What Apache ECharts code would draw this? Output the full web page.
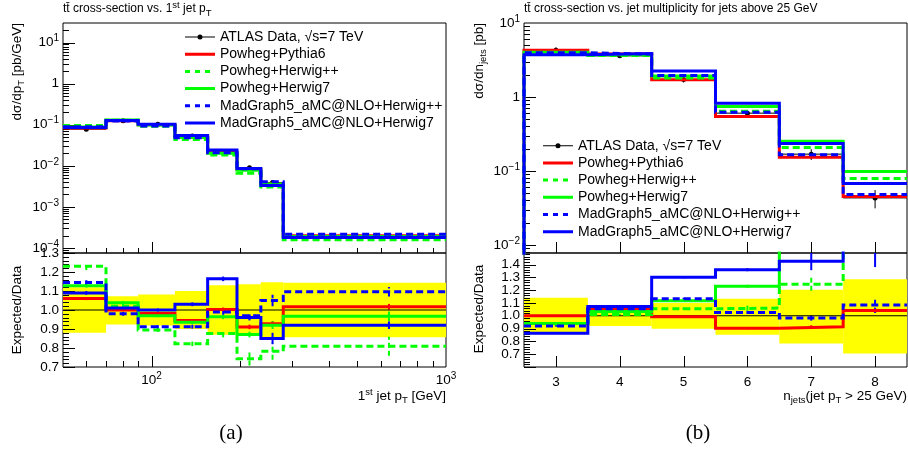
<!DOCTYPE html>
<html><head><meta charset="utf-8">
<script src="https://cdn.jsdelivr.net/npm/echarts@6/dist/echarts.min.js"></script>
<style>html,body{margin:0;padding:0;background:#fff}#c{width:908px;height:453px}</style>
</head><body><div id="c"></div>
<script>
const FONT = '"Liberation Sans", Arial, Helvetica, sans-serif';

// ---------- Panel (a): 1st jet pT ----------
const ptEdges = [50, 70, 90, 120, 155, 195, 235, 280, 1000];
const ptData = [0.078, 0.125, 0.102, 0.053, 0.0209, 0.0089, 0.0039, 0.000195];
const ptDataErr = [0.006, 0.008, 0.006, 0.004, 0.0015, 0.0007, 0.0004, 0.00002];
const ptPythia6 = [0.0827, 0.125, 0.1002, 0.0501, 0.02096, 0.00811, 0.00362, 0.000198];
const ptHerwigpp = [0.0959, 0.1275, 0.0913, 0.0436, 0.0183, 0.00661, 0.00305, 0.000158];
const ptHerwig7 = [0.088, 0.1298, 0.0989, 0.0496, 0.02015, 0.00775, 0.00359, 0.000189];
const ptMGHerwigpp = [0.0893, 0.1225, 0.093, 0.0483, 0.02069, 0.0085, 0.0041, 0.000214];
const ptMGHerwig7 = [0.085, 0.1264, 0.102, 0.0546, 0.02433, 0.00861, 0.00332, 0.000179];
const ptBandLo = [0.88, 0.924, 0.918, 0.9, 0.87, 0.865, 0.848, 0.857];
const ptBandHi = [1.12, 1.073, 1.082, 1.1, 1.13, 1.135, 1.146, 1.143];
const ptRatioPythia6 = [1.06, 1.0, 0.982, 0.945, 1.003, 0.911, 0.927, 1.017];
const ptRatioHerwigpp = [1.23, 1.02, 0.895, 0.822, 0.876, 0.743, 0.783, 0.809];
const ptRatioHerwig7 = [1.128, 1.038, 0.97, 0.935, 0.964, 0.871, 0.92, 0.967];
const ptRatioMGHerwigpp = [1.145, 0.98, 0.912, 0.912, 0.99, 0.97, 1.05, 1.096];
const ptRatioMGHerwig7 = [1.09, 1.011, 1.0, 1.03, 1.164, 0.96, 0.85, 0.92];
const ptErrPythia6 = [0.008, 0.006, 0.006, 0.007, 0.01, 0.012, 0.015, 0.015];
const ptErrHerwigpp = [0.02, 0.012, 0.01, 0.012, 0.02, 0.035, 0.045, 0.05];
const ptErrHerwig7 = [0.01, 0.01, 0.008, 0.01, 0.012, 0.015, 0.02, 0.025];
const ptErrMGHerwigpp = [0.012, 0.01, 0.008, 0.01, 0.015, 0.02, 0.03, 0.025];
const ptErrMGHerwig7 = [0.01, 0.008, 0.008, 0.01, 0.012, 0.015, 0.03, 0.02];

// ---------- Panel (b): jet multiplicity ----------
const njEdges = [2.5, 3.5, 4.5, 5.5, 6.5, 7.5, 8.5];
const njData = [4.3, 3.6, 1.72, 0.605, 0.169, 0.0433];
const njDataErr = [0.4, 0.2, 0.15, 0.06, 0.028, 0.012];
const njPythia6 = [4.3, 3.8, 1.71, 0.546, 0.154, 0.0451];
const njHerwigpp = [3.98, 3.64, 1.81, 0.641, 0.208, 0.079];
const njHerwig7 = [4.04, 3.72, 1.92, 0.744, 0.252, 0.0984];
const njMGHerwigpp = [3.96, 3.80, 1.95, 0.621, 0.166, 0.0483];
const njMGHerwig7 = [3.72, 3.86, 2.24, 0.823, 0.235, 0.0677];
const njBandLo = [0.856, 0.92, 0.898, 0.851, 0.784, 0.705];
const njBandHi = [1.14, 1.081, 1.1, 1.133, 1.204, 1.285];
const njRatioPythia6 = [1.0, 1.055, 0.992, 0.903, 0.914, 1.042];
const njRatioHerwigpp = [0.925, 1.01, 1.055, 1.06, 1.246, 1.85];
const njRatioHerwig7 = [0.94, 1.034, 1.118, 1.23, 1.52, 2.27];
const njRatioMGHerwigpp = [0.92, 1.055, 1.133, 1.026, 0.982, 1.084];
const njRatioMGHerwig7 = [0.864, 1.073, 1.30, 1.36, 1.426, 1.58];
const njErrPythia6 = [0.005, 0.005, 0.006, 0.008, 0.012, 0.02];
const njErrHerwigpp = [0.006, 0.006, 0.01, 0.02, 0.05, 0.08];
const njErrHerwig7 = [0.005, 0.005, 0.008, 0.012, 0.03, 0.06];
const njErrMGHerwigpp = [0.005, 0.005, 0.008, 0.012, 0.02, 0.06];
const njErrMGHerwig7 = [0.005, 0.005, 0.008, 0.012, 0.07, 0.2];

const NAMES = ['ATLAS Data, \u221As=7 TeV', 'Powheg+Pythia6', 'Powheg+Herwig++', 'Powheg+Herwig7',
  'MadGraph5_aMC@NLO+Herwig++', 'MadGraph5_aMC@NLO+Herwig7'];
const COLORS = ['#000000', '#ff0000', '#00ff00', '#00ff00', '#0000ff', '#0000ff'];
const DASHED = [false, false, true, false, true, false];

// axis ranges
const PT_X = [50, 1000], PT_Y = [7.5e-5, 30], PT_R = [0.7, 1.3];
const NJ_X = [2.5, 8.5], NJ_Y = [0.0078, 10], NJ_R = [0.6, 1.49];

function steps(edges, vals, floor) {
  const d = [];
  if (floor !== undefined) d.push([edges[0], floor]);
  for (let i = 0; i < vals.length; i++) d.push([edges[i], vals[i]]);
  d.push([edges[edges.length - 1], vals[vals.length - 1]]);
  return d;
}
function centers(edges) {
  const c = [];
  for (let i = 0; i < edges.length - 1; i++) c.push((edges[i] + edges[i + 1]) / 2);
  return c;
}
function mcLine(idx, grid, edges, vals, floor) {
  return {
    name: NAMES[idx], type: 'line', xAxisIndex: grid, yAxisIndex: grid, step: 'end',
    symbol: 'none', showSymbol: false, data: steps(edges, vals, floor), clip: true, silent: true,
    lineStyle: { color: COLORS[idx], width: 3, type: DASHED[idx] ? [7, 4] : 'solid', cap: 'butt', join: 'miter' },
    itemStyle: { color: COLORS[idx] }, animation: false
  };
}
function mcErr(idx, grid, edges, vals, errs) {
  const c = centers(edges);
  return {
    name: NAMES[idx], type: 'custom', xAxisIndex: grid, yAxisIndex: grid, clip: true, silent: true,
    encode: { x: 0, y: 1 }, itemStyle: { color: COLORS[idx] },
    data: vals.map((v, i) => [c[i], v, errs[i]]),
    renderItem: function (params, api) {
      const x = api.value(0), y = api.value(1), e = api.value(2);
      const a = api.coord([x, y - e]), b = api.coord([x, y + e]);
      return { type: 'line', shape: { x1: a[0], y1: a[1], x2: b[0], y2: b[1] },
        style: { stroke: COLORS[idx], lineWidth: 2, lineDash: DASHED[idx] ? [5, 3] : null } };
    }
  };
}
function band(grid, edges, lo, hi) {
  return {
    type: 'custom', xAxisIndex: grid, yAxisIndex: grid, clip: true, silent: true, encode: { x: 0, y: 2 },
    data: lo.map((l, i) => [edges[i], edges[i + 1], l, hi[i]]),
    renderItem: function (params, api) {
      const p0 = api.coord([api.value(0), api.value(3)]), p1 = api.coord([api.value(1), api.value(2)]);
      return { type: 'rect', shape: { x: p0[0], y: p0[1], width: p1[0] - p0[0], height: p1[1] - p0[1] },
        style: { fill: '#ffff00' } };
    }
  };
}
function dataPts(grid, edges, vals, errs) {
  const c = centers(edges);
  return {
    name: NAMES[0], type: 'custom', xAxisIndex: grid, yAxisIndex: grid, clip: true, silent: true,
    encode: { x: 0, y: 1 }, itemStyle: { color: '#000' },
    data: vals.map((v, i) => [c[i], v, errs[i], edges[i], edges[i + 1]]),
    renderItem: function (params, api) {
      const x = api.value(0), y = api.value(1), e = api.value(2);
      const cc = api.coord([x, y]), a = api.coord([x, y - e]), b = api.coord([x, y + e]);
      const l = api.coord([api.value(3), y]), r = api.coord([api.value(4), y]);
      return { type: 'group', children: [
        { type: 'line', shape: { x1: l[0], y1: cc[1], x2: r[0], y2: cc[1] }, style: { stroke: '#000', lineWidth: 1 } },
        { type: 'line', shape: { x1: cc[0], y1: a[1], x2: cc[0], y2: b[1] }, style: { stroke: '#000', lineWidth: 1 } },
        { type: 'circle', shape: { cx: cc[0], cy: cc[1], r: 2.5 }, style: { fill: '#000' } }
      ] };
    }
  };
}
function unity(grid, xr) {
  return { type: 'line', xAxisIndex: grid, yAxisIndex: grid, symbol: 'none', silent: true,
    data: [[xr[0], 1], [xr[1], 1]], lineStyle: { color: '#000', width: 1 }, animation: false };
}
// tick marks (inward, ROOT style)
function logTicks(r, majorLen, minorLen) {
  const out = [];
  for (let e = Math.floor(Math.log10(r[0])); e <= Math.ceil(Math.log10(r[1])); e++) {
    for (let k = 1; k <= 9; k++) {
      const v = k * Math.pow(10, e);
      if (v > r[0] * 1.0001 && v < r[1] * 0.9999) out.push([v, k === 1 ? majorLen : minorLen]);
    }
  }
  return out;
}
function linTicks(r, minorStep, perMajor, majorLen, minorLen) {
  const out = [];
  for (let n = Math.ceil(r[0] / minorStep - 1e-6); n <= Math.floor(r[1] / minorStep + 1e-6); n++) {
    out.push([n * minorStep, n % perMajor === 0 ? majorLen : minorLen]);
  }
  return out;
}
function tickSeries(grid, orient, ref, ticks) {
  return {
    type: 'custom', xAxisIndex: grid, yAxisIndex: grid, silent: true, clip: false, encode: { x: 0, y: 1 },
    data: ticks.map(t => orient === 'y' ? [ref, t[0], t[1]] : [t[0], ref, t[1]]),
    renderItem: function (params, api) {
      const p = api.coord([api.value(0), api.value(1)]), len = api.value(2);
      if (orient === 'y') {
        const y = Math.round(p[1]) + 0.5;
        return { type: 'line', shape: { x1: p[0], y1: y, x2: p[0] + len, y2: y }, style: { stroke: '#000', lineWidth: 1 } };
      }
      const x = Math.round(p[0]) + 0.5;
      return { type: 'line', shape: { x1: x, y1: p[1], x2: x, y2: p[1] - len }, style: { stroke: '#000', lineWidth: 1 } };
    }
  };
}

const RICH_AX = {
  sup: { fontSize: 10, verticalAlign: 'top', lineHeight: 18, color: '#000', fontFamily: FONT },
};
function powLabel(v) {
  const lg = Math.log10(v), e = Math.round(lg);
  if (Math.abs(lg - e) > 1e-6) return '';
  if (e === 0) return '1';
  return '10{sup|' + (e < 0 ? '\u2212' + (-e) : e) + '}';
}
const LBL = { color: '#000', fontSize: 13.5, fontFamily: FONT, lineHeight: 18, rich: RICH_AX };

function gridDef(left, top, w, h) {
  return { left: left, top: top, width: w, height: h, show: true, borderColor: '#000', borderWidth: 1,
    backgroundColor: 'transparent', containLabel: false, outerBoundsMode: 'none' };
}
const hiddenAx = { axisLine: { show: false }, axisTick: { show: false }, splitLine: { show: false } };

const xAxes = [
  Object.assign({ type: 'log', logBase: 10, gridIndex: 0, min: PT_X[0], max: PT_X[1], axisLabel: { show: false } }, hiddenAx),
  Object.assign({ type: 'log', logBase: 10, gridIndex: 1, min: PT_X[0], max: PT_X[1],
    axisLabel: Object.assign({ formatter: powLabel, margin: 4, showMinLabel: false }, LBL) }, hiddenAx),
  Object.assign({ type: 'value', gridIndex: 2, min: NJ_X[0], max: NJ_X[1], splitNumber: 6, axisLabel: { show: false } }, hiddenAx),
  Object.assign({ type: 'value', gridIndex: 3, min: NJ_X[0], max: NJ_X[1], splitNumber: 6,
    axisLabel: Object.assign({ formatter: v => (Math.abs(v - Math.round(v)) < 1e-6 ? String(Math.round(v)) : ''),
      margin: 6, showMinLabel: false, showMaxLabel: false }, LBL) }, hiddenAx)
];
const yAxes = [
  Object.assign({ type: 'log', logBase: 10, gridIndex: 0, min: PT_Y[0], max: PT_Y[1],
    axisLabel: Object.assign({ formatter: powLabel, margin: 4, showMinLabel: false, showMaxLabel: false }, LBL) }, hiddenAx),
  Object.assign({ type: 'value', gridIndex: 1, min: PT_R[0], max: PT_R[1], interval: 0.1,
    axisLabel: Object.assign({ formatter: v => v.toFixed(1), margin: 4 }, LBL) }, hiddenAx),
  Object.assign({ type: 'log', logBase: 10, gridIndex: 2, min: NJ_Y[0], max: NJ_Y[1],
    axisLabel: Object.assign({ formatter: powLabel, margin: 4, showMinLabel: false }, LBL) }, hiddenAx),
  Object.assign({ type: 'value', gridIndex: 3, min: NJ_R[0], max: NJ_R[1], interval: 0.1,
    axisLabel: Object.assign({ formatter: v => v.toFixed(1), margin: 4, showMaxLabel: false }, LBL) }, hiddenAx)
];

const ptTop = [ptPythia6, ptHerwigpp, ptHerwig7, ptMGHerwigpp, ptMGHerwig7];
const ptRat = [ptRatioPythia6, ptRatioHerwigpp, ptRatioHerwig7, ptRatioMGHerwigpp, ptRatioMGHerwig7];
const ptErr = [ptErrPythia6, ptErrHerwigpp, ptErrHerwig7, ptErrMGHerwigpp, ptErrMGHerwig7];
const njTop = [njPythia6, njHerwigpp, njHerwig7, njMGHerwigpp, njMGHerwig7];
const njRat = [njRatioPythia6, njRatioHerwigpp, njRatioHerwig7, njRatioMGHerwigpp, njRatioMGHerwig7];
const njErr = [njErrPythia6, njErrHerwigpp, njErrHerwig7, njErrMGHerwigpp, njErrMGHerwig7];

const series = [];
// ratio bands + unity
series.push(band(1, ptEdges, ptBandLo, ptBandHi));
series.push(band(3, njEdges, njBandLo, njBandHi));
series.push(unity(1, PT_X));
series.push(unity(3, NJ_X));
for (let i = 0; i < 5; i++) {
  series.push(mcLine(i + 1, 0, ptEdges, ptTop[i]));
  series.push(mcLine(i + 1, 2, njEdges, njTop[i], 1e-4));
  series.push(mcLine(i + 1, 1, ptEdges, ptRat[i]));
  series.push(mcErr(i + 1, 1, ptEdges, ptRat[i], ptErr[i]));
  series.push(mcLine(i + 1, 3, njEdges, njRat[i]));
  series.push(mcErr(i + 1, 3, njEdges, njRat[i], njErr[i]));
}
series.push(dataPts(0, ptEdges, ptData, ptDataErr));
series.push(dataPts(2, njEdges, njData, njDataErr));
// ticks
series.push(tickSeries(0, 'y', PT_X[0], logTicks(PT_Y, 12, 6)));
series.push(tickSeries(0, 'x', PT_Y[0], logTicks(PT_X, 11, 5)));
series.push(tickSeries(1, 'y', PT_X[0], linTicks(PT_R, 0.02, 5, 12, 6)));
series.push(tickSeries(1, 'x', PT_R[0], logTicks(PT_X, 11, 6)));
series.push(tickSeries(2, 'y', NJ_X[0], logTicks(NJ_Y, 12, 6)));
series.push(tickSeries(2, 'x', NJ_Y[0], linTicks(NJ_X, 1, 1, 11, 11)));
series.push(tickSeries(3, 'y', NJ_X[0], linTicks(NJ_R, 0.02, 5, 12, 6)));
series.push(tickSeries(3, 'x', NJ_R[0], linTicks(NJ_X, 1, 1, 11, 11)));

// legend icons (30x14 box, corner specks fix the bounding box)
const BOX = 'M0,0L0.01,0.01L0,0.01Z M30,14L29.99,13.99L30,13.99Z ';
const DATA_ICON = 'path://' + BOX + 'M0,6.5L30,6.5L30,7.5L0,7.5Z M17.5,7A2.5,2.5,0,1,1,12.5,7A2.5,2.5,0,1,1,17.5,7Z';
const SOLID_ICON = 'path://' + BOX + 'M0,5.5L30,5.5L30,8.5L0,8.5Z';
const DASH_ICON = 'path://' + BOX + 'M0,5.5L5,5.5L5,8.5L0,8.5Z M10,5.5L15,5.5L15,8.5L10,8.5Z M20,5.5L25,5.5L25,8.5L20,8.5Z';
function legendDef(left, top) {
  return {
    orient: 'vertical', left: left, top: top, itemWidth: 30, itemHeight: 14, itemGap: 3.2,
    selectedMode: false, padding: 0, symbolKeepAspect: true,
    itemStyle: { borderWidth: 0 },
    textStyle: { fontSize: 14, fontFamily: FONT, color: '#000' },
    data: NAMES.map((n, i) => ({ name: n, icon: i === 0 ? DATA_ICON : (DASHED[i] ? DASH_ICON : SOLID_ICON),
      itemStyle: { color: COLORS[i], borderWidth: 0 } }))
  };
}

const RICH_G = {
  sup: { fontSize: 9.5, verticalAlign: 'top', lineHeight: 18, fill: '#000', fontFamily: FONT },
  sub: { fontSize: 9.5, verticalAlign: 'bottom', lineHeight: 18, fill: '#000', fontFamily: FONT }
};
function gtext(x, y, text, size, align, rot, family) {
  return { type: 'text', x: x, y: y, rotation: rot || 0, silent: true,
    style: { text: text, fill: '#000', fontSize: size, fontFamily: family || FONT, align: align,
      verticalAlign: 'middle', lineHeight: 18, rich: RICH_G } };
}
const graphics = [
  gtext(63, 9, 'tt\u0304 cross-section vs. 1{sup|st} jet p{sub|T}', 12, 'left'),
  gtext(524, 9, 'tt\u0304 cross-section vs. jet multiplicity for jets above 25 GeV', 12, 'left'),
  gtext(17, 23, 'd\u03c3/dp{sub|T} [pb/GeV]', 13.5, 'right', Math.PI / 2),
  gtext(17, 310, 'Expected/Data', 13.5, 'center', Math.PI / 2),
  gtext(479, 23, 'd\u03c3/dn{sub|jets} [pb]', 13.5, 'right', Math.PI / 2),
  gtext(479, 309, 'Expected/Data', 13.5, 'center', Math.PI / 2),
  gtext(446, 396, '1{sup|st} jet p{sub|T} [GeV]', 13.5, 'right'),
  gtext(907, 396, 'n{sub|jets}(jet p{sub|T} > 25 GeV)', 13.5, 'right'),
  gtext(231, 433, '(a)', 21, 'center', 0, '"Liberation Serif", "Times New Roman", serif'),
  gtext(698, 433, '(b)', 21, 'center', 0, '"Liberation Serif", "Times New Roman", serif')
];

const chart = echarts.init(document.getElementById('c'), null, { renderer: 'canvas' });
chart.setOption({
  animation: false,
  backgroundColor: '#ffffff',
  textStyle: { fontFamily: FONT },
  grid: [gridDef(63, 23, 383, 230), gridDef(63, 253, 383, 114), gridDef(524, 23, 383, 230), gridDef(524, 253, 383, 114)],
  xAxis: xAxes,
  yAxis: yAxes,
  legend: [legendDef(185, 30), legendDef(543, 138.7)],
  graphic: graphics,
  series: series
});
</script></body></html>
